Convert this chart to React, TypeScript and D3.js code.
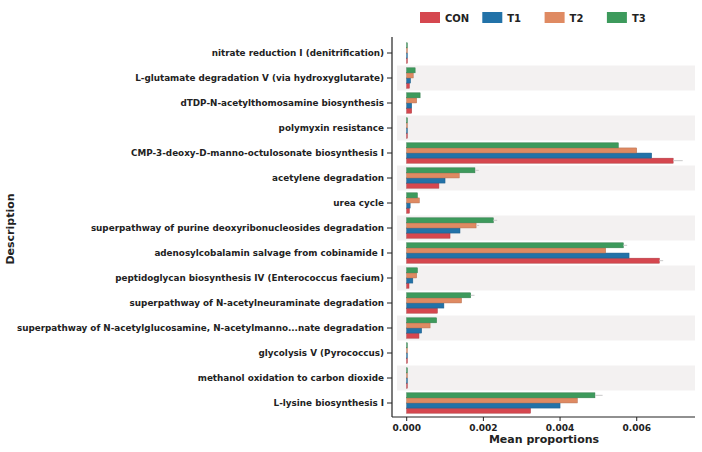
import * as d3 from "d3";

const categories = [
  "nitrate reduction I (denitrification)",
  "L-glutamate degradation V (via hydroxyglutarate)",
  "dTDP-N-acetylthomosamine biosynthesis",
  "polymyxin resistance",
  "CMP-3-deoxy-D-manno-octulosonate biosynthesis I",
  "acetylene degradation",
  "urea cycle",
  "superpathway of purine deoxyribonucleosides degradation",
  "adenosylcobalamin salvage from cobinamide I",
  "peptidoglycan biosynthesis IV (Enterococcus faecium)",
  "superpathway of N-acetylneuraminate degradation",
  "superpathway of N-acetylglucosamine, N-acetylmanno...nate degradation",
  "glycolysis V (Pyrococcus)",
  "methanol oxidation to carbon dioxide",
  "L-lysine biosynthesis I",
];

const groups = ["CON", "T1", "T2", "T3"];
const colors = ["#d5474f", "#2272a8", "#df8a62", "#3d9a5c"];

// mean proportions per group, in category order
const conVals = [0.00001, 0.00007, 0.00013, 0.00001, 0.00695, 0.00084, 0.00007, 0.00113, 0.00659, 0.00006, 0.0008, 0.00032, 0.000005, 0.000005, 0.00323];
const t1Vals = [0.00001, 0.0001, 0.00013, 0.00001, 0.00639, 0.001, 0.00009, 0.00139, 0.0058, 0.00016, 0.00097, 0.00039, 0.000005, 0.000005, 0.004];
const t2Vals = [0.00001, 0.00017, 0.00026, 0.00001, 0.006, 0.00137, 0.00033, 0.00181, 0.00519, 0.00026, 0.00143, 0.00061, 0.000005, 0.000005, 0.00445];
const t3Vals = [0.00001, 0.00022, 0.00035, 0.00001, 0.00552, 0.00178, 0.00028, 0.00226, 0.00565, 0.00028, 0.00167, 0.00078, 0.000005, 0.000005, 0.00491];
// small standard errors
const conErr = [0, 0, 0, 0, 0.00025, 0, 0, 0, 0.0001, 0, 0, 0, 0, 0, 0];
const t1Err = [0, 0, 0, 0, 0, 0, 0, 0, 0, 0, 0, 0, 0, 0, 0];
const t2Err = [0, 0, 0, 0, 0, 0, 0, 0.00008, 0, 0, 0, 0, 0, 0, 0];
const t3Err = [0, 0, 0, 0, 0, 0.0001, 0, 0.0001, 0.0001, 0, 0.0001, 0, 0, 0, 0.0002];

const xTicks = [0, 0.002, 0.004, 0.006];

const series = [conVals, t1Vals, t2Vals, t3Vals];
const errs = [conErr, t1Err, t2Err, t3Err];

export default function App() {
  const width = 702;
  const height = 452;
  const axisX = 392;
  const axisBottom = 417;

  const x = d3.scaleLinear().domain([0, 0.00752]).range([406.7, 695]);
  const y = d3.scaleBand().domain(categories).range([40.5, 415.5]).paddingInner(0).paddingOuter(0);
  // bars drawn top->bottom as T3, T2, T1, CON
  const inner = d3.scaleBand().domain(["T3", "T2", "T1", "CON"]).range([0, y.bandwidth()]).paddingOuter(0.45).paddingInner(0.02);

  const font = "DejaVu Sans, sans-serif";

  return (
    <div style={{ position: "fixed", left: 0, top: 0 }}>
      <svg width={width} height={height} style={{ display: "block", background: "#fff" }}>
        {categories.map((c, i) =>
          i % 2 === 1 ? (
            <rect key={`bg${c}`} x={397} y={y(c)!} width={298} height={y.bandwidth()} fill="#f3f1f1" />
          ) : null
        )}
        {categories.map((c, i) => (
          <g key={c}>
            {groups.map((g, gi) => {
              const v = series[gi][i];
              const by = y(c)! + inner(g)!;
              const w = Math.max(0.6, x(v) - x(0));
              const e = errs[gi][i];
              return (
                <g key={g}>
                  <rect x={x(0)} y={by} width={w} height={inner.bandwidth()} fill={colors[gi]} stroke={d3.color(colors[gi])!.darker(0.6).toString()} strokeWidth={0.5} />
                  {e > 0 && (
                    <line x1={x(v)} x2={x(v + e)} y1={by + inner.bandwidth() / 2} y2={by + inner.bandwidth() / 2} stroke="#c8c8c8" strokeWidth={1} />
                  )}
                </g>
              );
            })}
            <line x1={axisX - 5} x2={axisX} y1={y(c)! + y.bandwidth() / 2} y2={y(c)! + y.bandwidth() / 2} stroke="#222" strokeWidth={1} />
            <text x={axisX - 8} y={y(c)! + y.bandwidth() / 2 + 3} textAnchor="end" fontSize="8.8" fontWeight="bold" fontFamily={font} fill="#222">{c}</text>
          </g>
        ))}
        <line x1={axisX} x2={axisX} y1={37} y2={axisBottom} stroke="#222" strokeWidth={1.2} />
        <line x1={axisX} x2={695} y1={axisBottom} y2={axisBottom} stroke="#222" strokeWidth={1.2} />
        {xTicks.map((t) => (
          <g key={`x${t}`}>
            <line x1={x(t)} x2={x(t)} y1={axisBottom} y2={axisBottom + 4} stroke="#222" />
            <text x={x(t)} y={axisBottom + 14} textAnchor="middle" fontSize="9" fontWeight="bold" fontFamily={font} fill="#222">{t.toFixed(3)}</text>
          </g>
        ))}
        <text x={544} y={443} textAnchor="middle" fontSize="11" fontWeight="bold" fontFamily={font} fill="#222">Mean proportions</text>
        <text transform={`translate(14,${229}) rotate(-90)`} textAnchor="middle" fontSize="11" fontWeight="bold" fontFamily={font} fill="#222">Description</text>
        {groups.map((g, gi) => (
          <g key={`lg${g}`} transform={`translate(${420 + gi * 62.3},12)`}>
            <rect x={0} y={0} width={20} height={11} fill={colors[gi]} />
            <text x={25} y={9.5} fontSize="10" fontWeight="bold" fontFamily={font} fill="#222">{g}</text>
          </g>
        ))}
      </svg>
    </div>
  );
}
